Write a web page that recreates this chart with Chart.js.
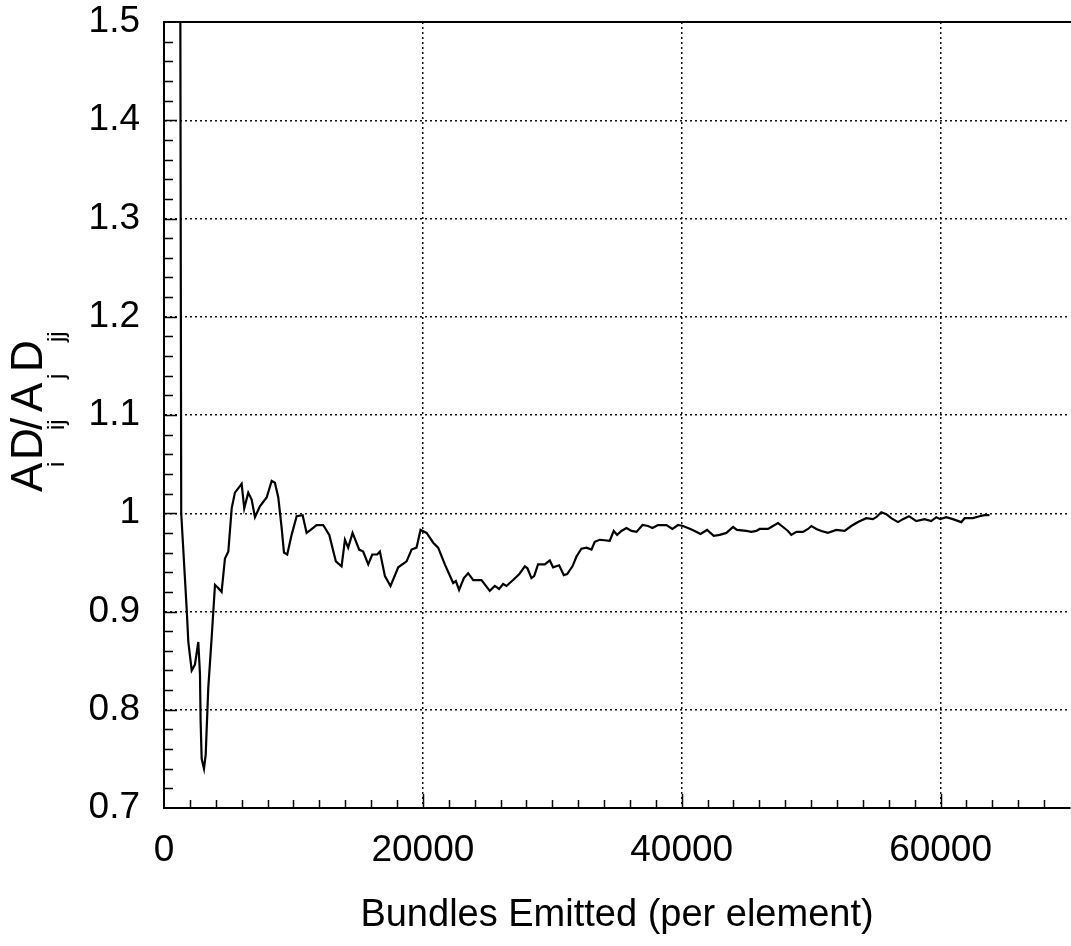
<!DOCTYPE html>
<html>
<head>
<meta charset="utf-8">
<script src="https://cdn.jsdelivr.net/npm/chart.js@4/dist/chart.umd.min.js"></script>
<style>
  html, body { margin: 0; padding: 0; background: #fff; }
  #wrap { width: 1071px; height: 946px; }
</style>
</head>
<body>
<div id="wrap"><canvas id="canvas" width="1071" height="946"></canvas></div>
<script>
// bundles emitted per element vs. the running ratio
var bundles = [
    1250, 1330, 1750, 1880, 2140, 2390, 2650, 2780, 2830, 2910,
    3090, 3220, 3420, 3680, 3940, 4190, 4450, 4710, 4970, 5230,
    5480, 6000, 6200, 6510, 6770, 7030, 7410, 7930, 8320, 8570,
    8830, 9090, 9270, 9520, 9860, 10250, 10710, 11020, 11330, 11790,
    12300, 12770, 13280, 13720, 13980, 14230, 14570, 15080, 15390, 15780,
    16090, 16470, 16680, 17070, 17500, 18100, 18740, 19130, 19510, 19820,
    20290, 20800, 21180, 21700, 22340, 22550, 22800, 23170, 23500, 23890,
    24530, 25170, 25560, 25890, 26200, 26460, 26970, 27440, 27880, 28080,
    28390, 28600, 28900, 29420, 29810, 30060, 30530, 30890, 31150, 31560,
    31870, 32250, 32640, 33030, 33280, 33670, 34440, 34750, 35010, 35340,
    35730, 36120, 36510, 36970, 37400, 37740, 38170, 38820, 39280, 39720,
    40100, 40670, 41000, 41450, 41960, 42470, 42940, 43450, 43970, 44270,
    44990, 45380, 45770, 46020, 46670, 47050, 47440, 47830, 48210, 48470,
    48860, 49370, 49760, 50020, 50400, 50790, 51300, 51940, 52590, 53100,
    53620, 54260, 54770, 55030, 55420, 55810, 56190, 56710, 57090, 57560,
    58120, 58760, 59280, 59670, 59980, 60440, 60950, 61600, 61860, 62500,
    63010, 63400, 63780
];
var ratio = [
    1.600, 1.000, 0.903, 0.869, 0.840, 0.846, 0.869, 0.836, 0.788, 0.750,
    0.740, 0.754, 0.822, 0.873, 0.927, 0.924, 0.920, 0.954, 0.961, 1.005,
    1.021, 1.030, 1.005, 1.021, 1.014, 0.996, 1.007, 1.016, 1.033, 1.031,
    1.016, 0.985, 0.960, 0.958, 0.978, 0.997, 0.998, 0.980, 0.983, 0.988,
    0.988, 0.978, 0.951, 0.946, 0.973, 0.965, 0.980, 0.963, 0.961, 0.948,
    0.958, 0.958, 0.961, 0.936, 0.926, 0.945, 0.951, 0.963, 0.965, 0.983,
    0.980, 0.970, 0.965, 0.948, 0.929, 0.931, 0.922, 0.934, 0.939, 0.932,
    0.932, 0.921, 0.926, 0.923, 0.928, 0.926, 0.932, 0.938, 0.946, 0.944,
    0.934, 0.936, 0.948, 0.948, 0.952, 0.945, 0.947, 0.937, 0.938, 0.946,
    0.956, 0.964, 0.965, 0.963, 0.971, 0.973, 0.972, 0.982, 0.978, 0.982,
    0.985, 0.982, 0.981, 0.988, 0.987, 0.985, 0.988, 0.988, 0.984, 0.988,
    0.987, 0.984, 0.982, 0.979, 0.983, 0.977, 0.978, 0.980, 0.986, 0.983,
    0.982, 0.981, 0.982, 0.984, 0.984, 0.987, 0.990, 0.986, 0.982, 0.978,
    0.981, 0.981, 0.984, 0.987, 0.984, 0.982, 0.980, 0.983, 0.982, 0.987,
    0.991, 0.995, 0.994, 0.996, 1.001, 0.999, 0.995, 0.991, 0.994, 0.997,
    0.992, 0.994, 0.992, 0.996, 0.994, 0.996, 0.994, 0.991, 0.995, 0.995,
    0.997, 0.998, 0.998
];

var xTickValues = [0, 20000, 40000, 60000];
var xTickLabels = ["0", "20000", "40000", "60000"];
var yTickValues = [0.7, 0.8, 0.9, 1.0, 1.1, 1.2, 1.3, 1.4, 1.5];
var yTickLabels = ["0.7", "0.8", "0.9", "1", "1.1", "1.2", "1.3", "1.4", "1.5"];

var FONT = '"Liberation Sans", Arial, sans-serif';

var points = bundles.map(function(b, i) { return {x: b, y: ratio[i]}; });

// solid top edge, inward minor/major ticks and the stacked y label
var framePlugin = {
    id: 'frame',
    afterDraw: function(chart) {
        var ctx = chart.ctx;
        var a = chart.chartArea;
        var xs = chart.scales.x, ys = chart.scales.y;
        ctx.save();
        ctx.strokeStyle = "#000";
        ctx.lineWidth = 2;
        ctx.beginPath();
        ctx.moveTo(a.left, a.top);
        ctx.lineTo(chart.width, a.top);
        ctx.stroke();

        ctx.lineWidth = 1.5;
        ctx.beginPath();
        for (var k = 1; k < 40; k++) {
            var py = Math.round(ys.getPixelForValue(0.7 + k * 0.02)) + 0.5;
            var len = (k % 5 === 0) ? 13 : 9;
            ctx.moveTo(a.left, py);
            ctx.lineTo(a.left + len, py);
        }
        for (var j = 1; j < 35; j++) {
            var px = Math.round(xs.getPixelForValue(j * 2000)) + 0.5;
            var l2 = (j % 10 === 0) ? 14 : 8;
            ctx.moveTo(px, a.bottom);
            ctx.lineTo(px, a.bottom - l2);
        }
        ctx.stroke();

        // A_i D_ij / A_j D_jj, rotated
        ctx.translate(42, 492);
        ctx.rotate(-Math.PI / 2);
        ctx.fillStyle = "#000";
        ctx.textBaseline = "alphabetic";
        ctx.textAlign = "left";
        var big = "44px " + FONT, small = "24px " + FONT;
        var parts = [
            [big, "A", 0, 0], [small, "i", 25, 22],
            [big, "D", 32, 0], [small, "ij", 62, 22],
            [big, "/", 62, 0],
            [big, "A", 80, 0], [small, "j", 113, 22],
            [big, "D", 120, 0], [small, "jj", 150, 22]
        ];
        parts.forEach(function(p) {
            ctx.font = p[0];
            ctx.fillText(p[1], p[2], p[3]);
        });
        ctx.restore();
    }
};

var ctx = document.getElementById("canvas").getContext("2d");
var chart = new Chart(ctx, {
    type: 'line',
    data: {
        datasets: [{
            data: points,
            borderColor: "#000",
            borderWidth: 2.2,
            pointRadius: 0,
            tension: 0,
            fill: false
        }]
    },
    options: {
        responsive: false,
        animation: false,
        devicePixelRatio: 1,
        layout: { padding: { top: 22, right: 1, bottom: 0, left: 0 } },
        plugins: { legend: { display: false }, tooltip: { enabled: false } },
        scales: {
            x: {
                type: 'linear',
                min: 0,
                max: 70000,
                afterBuildTicks: function(s) {
                    s.ticks = xTickValues.map(function(v) { return {value: v}; });
                },
                afterFit: function(s) {
                    s.height = 138;
                    s.paddingLeft = 0;
                    s.paddingRight = 0;
                },
                ticks: {
                    autoSkip: false,
                    maxRotation: 0,
                    padding: 21,
                    color: "#000",
                    font: { family: FONT, size: 37 },
                    callback: function(v, i) { return xTickLabels[i]; }
                },
                grid: {
                    drawTicks: false,
                    lineWidth: 1.5,
                    color: function(c) {
                        return (c.tick && c.tick.value === 0) ? "rgba(0,0,0,0)" : "#111";
                    }
                },
                border: { display: true, color: "#000", width: 2, dash: [2, 3] },
                title: {
                    display: true,
                    text: "Bundles Emitted (per element)",
                    color: "#000",
                    font: { family: FONT, size: 38 },
                    padding: { top: 0, bottom: 8 }
                }
            },
            y: {
                min: 0.7,
                max: 1.5,
                afterBuildTicks: function(s) {
                    s.ticks = yTickValues.map(function(v) { return {value: v}; });
                },
                afterFit: function(s) {
                    s.width = 164;
                    s.paddingTop = 0;
                    s.paddingBottom = 0;
                },
                ticks: {
                    padding: 24,
                    color: "#000",
                    font: { family: FONT, size: 37 },
                    callback: function(v, i) { return yTickLabels[i]; }
                },
                grid: {
                    drawTicks: false,
                    lineWidth: 1.5,
                    color: function(c) {
                        var v = c.tick && c.tick.value;
                        return (v === 0.7 || v === 1.5) ? "rgba(0,0,0,0)" : "#111";
                    }
                },
                border: { display: true, color: "#000", width: 2, dash: [2, 3] }
            }
        }
    },
    plugins: [framePlugin]
});
</script>
</body>
</html>
